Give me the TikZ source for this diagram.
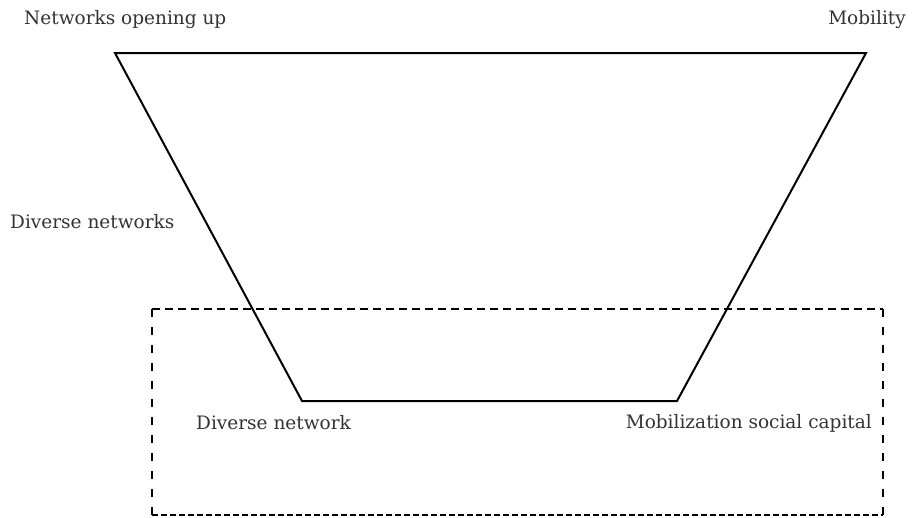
\documentclass[tikz,border=0pt]{standalone}
\usepackage{fontspec}
\setmainfont{DejaVu Serif}
\begin{document}
\begin{tikzpicture}[x=1pt,y=-1pt,
  lbl/.style={inner sep=0pt,font=\fontsize{18.5}{20}\selectfont,text=black!80},
  funnel/.style={line width=2pt,line join=miter},
  dashtop/.style={line width=1.4pt,dash pattern=on 8pt off 5pt},
  dashside/.style={line width=1.4pt,dash pattern=on 8pt off 10pt},
  dashbot/.style={line width=1.4pt,dash pattern=on 6pt off 3pt}]
\useasboundingbox (0,0) rectangle (912,517);
\coordinate (tl) at (115,53);
\coordinate (tr) at (866,53);
\coordinate (bl) at (302,401);
\coordinate (br) at (677,401);
\draw[funnel] (tl) -- (tr) -- (br) -- (bl) -- cycle;
\coordinate (dtl) at (152,309);
\coordinate (dtr) at (883,309);
\coordinate (dbl) at (152,515);
\coordinate (dbr) at (883,515);
\draw[dashtop] (dtl) -- (dtr);
\draw[dashside] (dtl) -- (dbl);
\draw[dashside] (dtr) -- (dbr);
\draw[dashbot] (dbl) -- (dbr);
\node[lbl,anchor=west] (nou) at (24,20) {Networks opening up};
\node[lbl,anchor=east] (mob) at (906,20) {Mobility};
\node[lbl,anchor=west] (dns) at (10,222) {Diverse networks};
\node[lbl,anchor=west] (dn) at (196,423) {Diverse network};
\node[lbl,anchor=east] (msc) at (872,423) {Mobilization social capital};
\end{tikzpicture}
\end{document}
